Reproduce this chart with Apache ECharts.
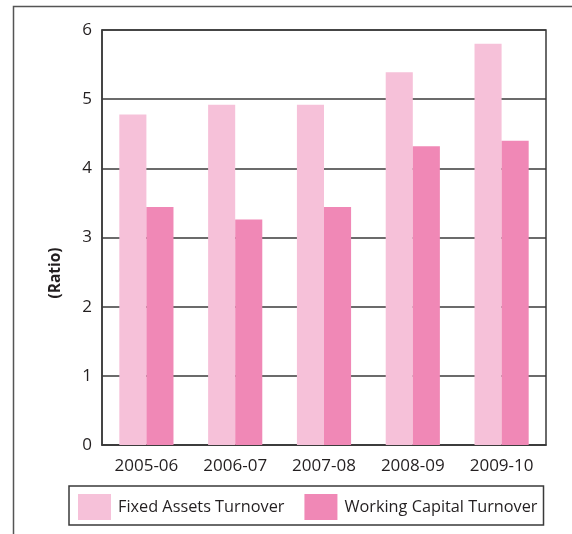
<!DOCTYPE html>
<html>
<head>
<meta charset="utf-8">
<script src="https://cdn.jsdelivr.net/npm/echarts@6/dist/echarts.min.js"></script>
<style>
  html, body { margin: 0; padding: 0; background: #fff; }
  #chart { width: 572px; height: 534px; }
</style>
</head>
<body>
<div id="chart"></div>
<script>
// Turnover ratios by financial year
const years = ['2005-06', '2006-07', '2007-08', '2008-09', '2009-10'];
const fixedAssetsTurnover = [4.78, 4.92, 4.92, 5.39, 5.80];
const workingCapitalTurnover = [3.44, 3.26, 3.44, 4.32, 4.40];
const seriesNames = ['Fixed Assets Turnover', 'Working Capital Turnover'];
const yTicks = [0, 1, 2, 3, 4, 5, 6];

const FONT = '"Open Sans", "DejaVu Sans", sans-serif';
const INK = '#231f20';
const LINE = '#3a3a3a';

const chart = echarts.init(document.getElementById('chart'), null, { renderer: 'canvas' });

chart.setOption({
  animation: false,
  backgroundColor: '#ffffff',
  textStyle: { fontFamily: FONT, color: INK },
  grid: { left: 102, right: 26, top: 30, bottom: 89, containLabel: false,
          show: true, borderColor: LINE, borderWidth: 1.5 },
  graphic: [
    // outer frame, open on the right and bottom edges
    { type: 'polyline', silent: true,
      shape: { points: [[13.5, 540], [13.5, 6.5], [580, 6.5]] },
      style: { stroke: '#555', lineWidth: 1.5, fill: null } },
    // axis title
    { type: 'text', silent: true, x: 56, y: 273, rotation: Math.PI / 2,
      style: { text: '(Ratio)', font: 'bold 15.5px ' + FONT, fill: INK,
               textAlign: 'center', textVerticalAlign: 'middle' } }
  ],
  legend: {
    data: seriesNames,
    left: 69, top: 486, width: 476,
    itemWidth: 33, itemHeight: 26, itemGap: 20,
    padding: [8, 6, 5, 9],
    borderColor: LINE, borderWidth: 1.5,
    icon: 'rect',
    textStyle: { fontFamily: FONT, fontSize: 16.3, color: INK, padding: [0, 0, 0, 2] }
  },
  xAxis: {
    type: 'category',
    data: years,
    axisLine: { lineStyle: { color: LINE, width: 1.5 } },
    axisTick: { inside: true, length: 10, lineStyle: { color: LINE, width: 1.5 } },
    axisLabel: { fontFamily: FONT, fontSize: 17, color: INK, margin: 13 }
  },
  yAxis: {
    type: 'value',
    min: yTicks[0], max: yTicks[yTicks.length - 1], interval: 1,
    axisLine: { show: true, lineStyle: { color: LINE, width: 1.5 } },
    axisTick: { show: false },
    axisLabel: { fontFamily: FONT, fontSize: 17, color: INK, margin: 10 },
    splitLine: { lineStyle: { color: LINE, width: 1.5 } }
  },
  series: [
    { name: seriesNames[0], type: 'bar', data: fixedAssetsTurnover,
      itemStyle: { color: '#f6c1d9' }, barGap: '0%', barCategoryGap: '39%' },
    { name: seriesNames[1], type: 'bar', data: workingCapitalTurnover,
      itemStyle: { color: '#f088b6' }, barGap: '0%', barCategoryGap: '39%' }
  ]
});
</script>
</body>
</html>
